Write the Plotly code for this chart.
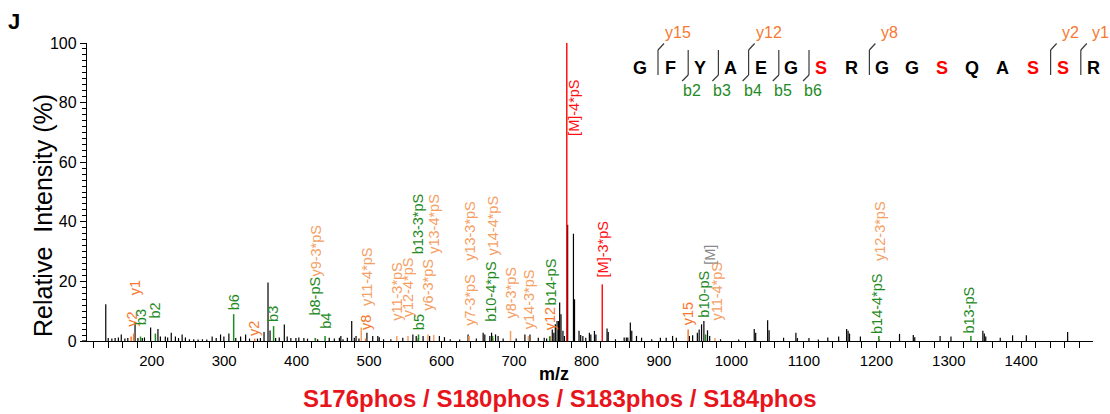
import plotly.graph_objects as go

W, H = 1110, 414
ML, MR, MT, MB = 87, 17, 43, 73
X_RANGE = [110.7, 1499]
PW = W - ML - MR
PH = H - MT - MB
FONT = "Liberation Sans, Arial, sans-serif"


def pxx(px):
    return (px - ML) / PW


def pxy(py):
    return (H - MB - py) / PH


# ---------------- data ----------------
# unannotated (black) peaks: m/z and relative intensity (%)
peak_mz = [136.6, 140, 145, 149.5, 154, 158, 163, 167, 177, 181, 187, 190, 198.5, 208.6, 212, 218.8,
           222, 227, 232.7, 237, 242, 246.5, 252, 258, 264, 270, 276, 283.4, 289, 295, 299.6, 306.5,
           316, 322.7, 329.6, 335, 346, 350, 355, 360.5, 363.3, 371, 376, 383, 387, 392, 399, 403,
           410, 415,
           429, 445, 452, 459, 461, 464, 470, 476, 479.6, 482, 486, 497, 505, 512, 514, 520, 530,
           546.5, 560.4, 565, 574.5, 583.5, 597, 604, 612, 625, 636.6, 648, 657.4, 659.7, 666.6,
           669, 674.5, 678, 685, 703, 715, 722, 733.5,
           741.7, 745, 752.8, 755, 757, 759.4, 761.5, 763, 764.8, 767.5, 769.5, 774, 782, 783.5,
           789.7, 792, 795, 799, 804, 806, 811, 813, 828.4, 830, 840, 852, 855, 857, 860.5, 862.5,
           869, 876, 890, 902, 910, 918.8, 924, 942, 946.5, 953, 955.5, 958.8, 962, 967, 970, 985,
           1010, 1031.5, 1033.5, 1050, 1052, 1072, 1089, 1091, 1107, 1120, 1133, 1148, 1159, 1161,
           1163, 1178, 1232, 1251, 1253, 1288, 1303, 1347, 1349, 1351, 1371, 1388, 1407, 1464]
peak_int = [12.3, 1.0, 0.8, 1.0, 1.2, 2.2, 0.8, 1.0, 6.5, 1.0, 1.0, 1.2, 4.5, 4.0, 1.5, 1.5,
            1.2, 2.8, 1.5, 1.0, 2.2, 1.2, 0.6, 0.6, 0.5, 0.6, 0.5, 1.5, 1.0, 2.2, 1.5, 2.5,
            1.0, 1.5, 2.2, 0.8, 0.8, 1.0, 3.0, 19.6, 3.5, 1.0, 1.2, 5.5, 1.5, 1.0, 1.0, 1.2,
            1.0, 0.8,
            0.6, 1.1, 0.8, 1.1, 1.7, 0.6, 1.1, 6.7, 1.1, 1.7, 0.8, 2.8, 1.7, 1.7, 1.3, 0.6, 0.6,
            1.1, 2.2, 1.7, 1.7, 1.7, 1.7, 1.3, 0.6, 0.5, 2.2, 0.8, 2.8, 2.2, 1.7,
            2.8, 2.2, 1.7, 0.8, 0.8, 2.2, 2.2, 1.1,
            1.1, 0.8, 3.9, 2.8, 5.6, 6.7, 6.7, 12.9, 9.0, 3.4, 1.7, 39.0, 36.0, 14.0,
            3.4, 2.0, 1.7, 1.1, 2.8, 2.2, 3.4, 2.2, 4.2, 3.0, 0.6, 1.2, 1.2, 1.2, 6.2, 3.4,
            1.7, 1.1, 0.6, 1.1, 1.1, 1.7, 1.1, 1.7, 1.9, 2.8, 3.9, 5.6, 6.7, 3.6, 1.7, 0.6,
            0.5, 4.0, 2.8, 7.0, 3.6, 1.1, 2.8, 1.0, 1.0, 0.5, 1.2, 1.5, 4.0, 3.4,
            2.5, 1.5, 2.4, 2.0, 1.3, 1.7, 1.5, 3.4, 2.5, 1.5, 1.1, 1.9, 1.9, 3.0]

# annotated fragment peaks
ann_text = ["y2", "y1", "b3", "b2", "b6", "y2", "b3", "b8-pS", "y9-3*pS", "b4",
            "y11-4*pS", "y8", "y11-3*pS", "y12-4*pS", "b5", "b13-3*pS", "y6-3*pS", "y13-4*pS",
            "y7-3*pS", "y13-3*pS", "b10-4*pS", "y14-4*pS", "y8-3*pS", "y14-3*pS", "y12", "b14-pS",
            "[M]-4*pS", "[M]-3*pS", "y15", "b10-pS", "[M]", "y11-4*pS", "y12-3*pS", "b14-4*pS",
            "b13-pS"]
ann_mz = [171.6, 175.1, 184.6, 205.1, 313.1, 342.1, 368.2, 425.7, 426.2, 439.2,
          489.2, 495.1, 538.2, 553.7, 568.2, 567.7, 581.2, 589.2,
          638.2, 638.2, 670.4, 670.7, 695.2, 719.8, 749.7, 749.2,
          772.8, 821.8, 940.3, 964.4, 968.8, 977.3, 1204.4, 1203.5,
          1330.5]
ann_int = [1.5, 2.5, 1.5, 2.5, 9.0, 0.8, 5.0, 1.0, 1.0, 1.7,
           4.5, 0.8, 1.7, 1.7, 2.2, 1.0, 2.2, 2.0,
           1.7, 1.7, 1.7, 1.0, 3.4, 1.7, 1.7, 1.5,
           100.0, 19.0, 3.9, 2.2, 0.0, 1.0, 0.5, 1.7,
           1.7]
ann_kind = ["y", "y", "b", "b", "b", "y", "b", "b", "yl", "b",
            "yl", "y", "yl", "yl", "b", "b", "yl", "yl",
            "yl", "yl", "b", "yl", "yl", "yl", "y", "b",
            "M", "M", "y", "b", "Mg", "yl", "yl", "b",
            "b"]
ann_label_mz = [171.6, 177.0, 184.6, 205.1, 313.1, 342.1, 368.2, 425.7, 427.0, 440.5,
                497.0, 495.1, 538.2, 553.7, 568.2, 567.7, 581.2, 589.2,
                638.2, 638.2, 669.0, 671.0, 695.2, 719.8, 749.7, 751.5,
                783.5, 823.0, 940.3, 962.0, 969.5, 979.5, 1204.4, 1201.0,
                1328.0]
ann_label_y = [4.0, 14.5, 4.5, 7.0, 9.5, 1.1, 5.6, 7.8, 21.0, 3.4,
               11.2, 3.0, 6.2, 7.3, 2.8, 28.5, 9.5, 28.5,
               4.5, 26.3, 5.6, 28.0, 6.7, 3.4, 2.8, 11.2,
               68.0, 20.7, 4.5, 7.3, 25.0, 6.2, 26.0, 1.7,
               1.7]

x_tick_vals = [200, 300, 400, 500, 600, 700, 800, 900, 1000, 1100, 1200, 1300, 1400]
y_tick_vals = [0, 20, 40, 60, 80, 100]

# peptide sequence graphic
sequence = "GFYAEGSRGGSQASSR"
phospho_positions = [7, 11, 14, 15]
y_ions_shown = [15, 12, 8, 2, 1]
b_ions_shown = [2, 3, 4, 5, 6]

colors = {"y": "#f7782f", "yl": "#f5a065", "b": "#1f8a1f", "M": "#ff1010", "Mg": "#8a8a8a"}

# ---------------- figure ----------------
fig = go.Figure()

xs, ys = [], []
for m, h in zip(peak_mz, peak_int):
    xs += [m, m, None]
    ys += [0, h, None]
fig.add_trace(go.Scatter(x=xs, y=ys, mode="lines", line=dict(color="black", width=1.2),
                         hoverinfo="skip", showlegend=False))

for kind, col in colors.items():
    xs, ys = [], []
    for m, h, k in zip(ann_mz, ann_int, ann_kind):
        if k == kind and h > 0:
            xs += [m, m, None]
            ys += [0, h, None]
    if xs:
        fig.add_trace(go.Scatter(x=xs, y=ys, mode="lines", line=dict(color=col, width=1.5),
                                 hoverinfo="skip", showlegend=False))

for lm, ly, t, k in zip(ann_label_mz, ann_label_y, ann_text, ann_kind):
    fig.add_annotation(x=lm, y=ly, xref="x", yref="y", text=t, textangle=-90,
                       xanchor="center", yanchor="bottom", showarrow=False,
                       font=dict(family=FONT, size=14.5, color=colors[k]))


def paper_text(px, py, text, size, color="black", angle=0):
    fig.add_annotation(x=pxx(px), y=pxy(py), xref="paper", yref="paper", text=text,
                       textangle=angle, showarrow=False, xanchor="center", yanchor="middle",
                       font=dict(family=FONT, size=size, color=color))


# sequence letters
SEQ_X0, SEQ_DX, SEQ_Y = 640, 30.2, 68
for i, aa in enumerate(sequence):
    col = "#ff0000" if (i + 1) in phospho_positions else "black"
    paper_text(SEQ_X0 + i * SEQ_DX, SEQ_Y, f"<b>{aa}</b>", 18, col)

mark_col = "#3a3a3a"
cuts = {}
for n in y_ions_shown:
    cuts.setdefault(len(sequence) - n, []).append(("y", n))
for n in b_ions_shown:
    cuts.setdefault(n, []).append(("b", n))
for after, items in cuts.items():
    cx = SEQ_X0 + (after - 1) * SEQ_DX + 18
    fig.add_shape(type="line", xref="paper", yref="paper", x0=pxx(cx), x1=pxx(cx),
                  y0=pxy(50), y1=pxy(75), line=dict(color=mark_col, width=1.2))
    for kind, n in items:
        if kind == "y":
            fig.add_shape(type="line", xref="paper", yref="paper", x0=pxx(cx), x1=pxx(cx + 6),
                          y0=pxy(50), y1=pxy(43.5), line=dict(color=mark_col, width=1.2))
            paper_text(cx + 20, 33, f"y{n}", 16, colors["y"])
        else:
            fig.add_shape(type="line", xref="paper", yref="paper", x0=pxx(cx), x1=pxx(cx - 6),
                          y0=pxy(75), y1=pxy(81), line=dict(color=mark_col, width=1.2))
            paper_text(cx + 4, 90, f"b{n}", 16, colors["b"])

# small extension of the x axis line to the left of the y axis
fig.add_shape(type="line", xref="paper", yref="paper", x0=pxx(82), x1=0, y0=0, y1=0,
              line=dict(color="black", width=1.3))

# texts
paper_text(14, 21, "<b>J</b>", 22)
paper_text(43, 216, "Relative  Intensity (%)", 25, angle=-90)
paper_text(554, 374, "<b>m/z</b>", 18)
paper_text(560, 398, "<b>S176phos / S180phos / S183phos / S184phos</b>", 24, "#e8141c")

fig.update_layout(
    width=W, height=H, margin=dict(l=ML, r=MR, t=MT, b=MB, pad=0),
    paper_bgcolor="white", plot_bgcolor="white", showlegend=False,
    font=dict(family=FONT, color="black"),
    xaxis=dict(range=X_RANGE, tickvals=x_tick_vals, ticks="outside", ticklen=6, tickwidth=1.2,
               tickcolor="black", showline=True, linecolor="black", linewidth=1.3,
               showgrid=False, zeroline=False, tickfont=dict(family=FONT, size=15),
               minor=dict(dtick=20, tick0=0, ticks="outside", ticklen=6, tickwidth=1.2,
                          tickcolor="black", showgrid=False)),
    yaxis=dict(range=[0, 100], tickvals=y_tick_vals, ticks="outside", ticklen=6, tickwidth=1.2,
               tickcolor="black", showline=True, linecolor="black", linewidth=1.3,
               showgrid=False, zeroline=False, tickfont=dict(family=FONT, size=16),
               minor=dict(dtick=2, tick0=0, ticks="outside", ticklen=4, tickwidth=1,
                          tickcolor="black", showgrid=False)),
)

fig.write_html("out.html")
